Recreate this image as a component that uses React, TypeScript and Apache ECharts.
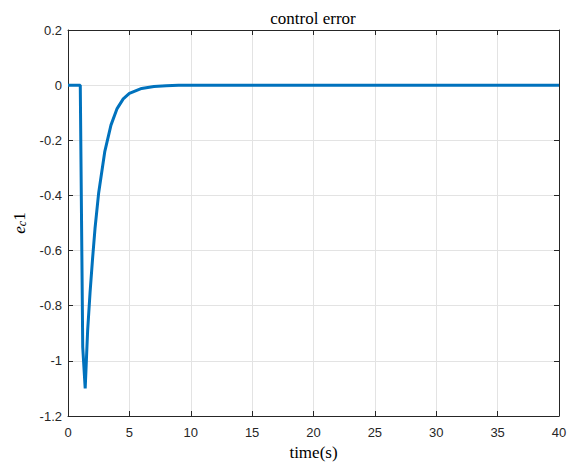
import React, { useEffect, useRef } from "react";
import * as echarts from "echarts";

const timeS = [0, 1.0, 1.2, 1.4, 1.6, 1.8, 2.0, 2.2, 2.5, 3.0, 3.5, 4.0, 4.5, 5.0, 6.0, 7.0, 8.0, 9.0, 40];
const errorVals = [0, 0, -0.95, -1.1, -0.89, -0.75, -0.63, -0.52, -0.39, -0.24, -0.145, -0.085, -0.05, -0.03, -0.012, -0.005, -0.002, 0, 0];
const xTicks = [0, 5, 10, 15, 20, 25, 30, 35, 40];
const yTicks = [0.2, 0, -0.2, -0.4, -0.6, -0.8, -1, -1.2];
const titleText = "control error";

const AXIS_COLOR = "#262626";
const GRID_COLOR = "#e3e3e3";
const LABEL_FONT = "'Liberation Sans', Arial, sans-serif";
const SERIF = "'Liberation Serif', 'DejaVu Serif', serif";

export default function App() {
  const ref = useRef<HTMLDivElement>(null);
  useEffect(() => {
    if (!ref.current) return;
    const chart = echarts.init(ref.current, undefined, { renderer: "svg" });
    const fmt = (v: number) => {
      const r = Math.round(v * 10) / 10;
      return r === 0 ? "0" : String(r);
    };
    const axisCommon = {
      axisLine: { show: true, onZero: false, lineStyle: { color: AXIS_COLOR, width: 1 } },
      axisTick: { show: true, inside: true, length: 5, lineStyle: { color: AXIS_COLOR } },
    };
    chart.setOption({
      animation: false,
      backgroundColor: "#ffffff",
      graphic: [
        {
          type: "text",
          x: 313,
          y: 18,
          style: {
            text: titleText,
            fill: "#000",
            font: "17px 'Liberation Serif', 'DejaVu Serif', serif",
            textAlign: "center",
            textVerticalAlign: "middle",
          },
        },
      ],
      grid: { left: 68, right: 18, top: 30, bottom: 50, containLabel: false, outerBoundsMode: "none" },
      xAxis: [
        {
          type: "value",
          min: xTicks[0],
          max: xTicks[xTicks.length - 1],
          interval: 5,
          position: "bottom",
          ...axisCommon,
          axisLabel: { color: AXIS_COLOR, fontFamily: LABEL_FONT, fontSize: 13, margin: 10 },
          splitLine: { show: true, lineStyle: { color: GRID_COLOR, width: 1 } },
          name: "time(s)",
          nameLocation: "middle",
          nameGap: 28,
          nameMoveOverlap: false,
          nameTextStyle: { fontFamily: SERIF, fontSize: 17, color: "#000" },
        },
        {
          type: "value",
          min: xTicks[0],
          max: xTicks[xTicks.length - 1],
          interval: 5,
          position: "top",
          ...axisCommon,
          axisLabel: { show: false },
          splitLine: { show: false },
        },
      ],
      yAxis: [
        {
          type: "value",
          min: yTicks[yTicks.length - 1],
          max: yTicks[0],
          interval: 0.2,
          position: "left",
          ...axisCommon,
          axisLabel: { color: AXIS_COLOR, fontFamily: LABEL_FONT, fontSize: 13, margin: 6, formatter: fmt },
          splitLine: { show: true, lineStyle: { color: GRID_COLOR, width: 1 } },
          name: "{e|e}{c|c}{n|1}",
          nameLocation: "middle",
          nameGap: 40,
          nameRotate: 90,
          nameMoveOverlap: false,
          nameTextStyle: {
            rich: {
              e: { fontFamily: SERIF, fontStyle: "italic", fontSize: 17, color: "#000", verticalAlign: "bottom" },
              c: { fontFamily: SERIF, fontStyle: "italic", fontSize: 12, color: "#000", verticalAlign: "bottom", padding: [8, 0, 0, 0] },
              n: { fontFamily: SERIF, fontSize: 17, color: "#000", verticalAlign: "bottom" },
            },
          },
        },
        {
          type: "value",
          min: yTicks[yTicks.length - 1],
          max: yTicks[0],
          interval: 0.2,
          position: "right",
          ...axisCommon,
          axisLabel: { show: false },
          splitLine: { show: false },
        },
      ],
      series: [
        {
          type: "line",
          data: timeS.map((t, i) => [t, errorVals[i]]),
          showSymbol: false,
          symbol: "none",
          lineStyle: { color: "#0072BD", width: 3 },
          clip: true,
        },
      ],
    });
    return () => chart.dispose();
  }, []);
  return <div ref={ref} style={{ width: 577, height: 466, position: "absolute", left: 0, top: 0 }} />;
}
